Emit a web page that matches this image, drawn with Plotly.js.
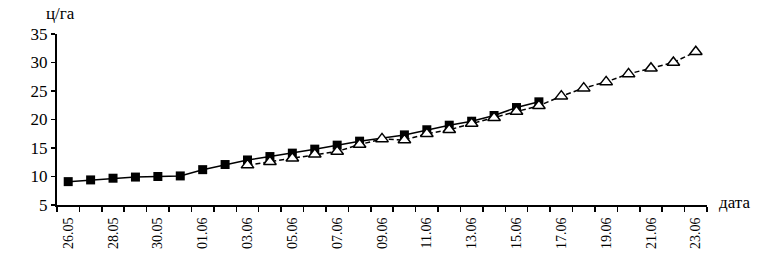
<!DOCTYPE html>
<html>
<head>
<meta charset="utf-8">
<script src="https://cdn.plot.ly/plotly-3.0.1.min.js"></script>
<style>
  html, body { margin: 0; padding: 0; background: #fff; }
  #chart { width: 768px; height: 267px; }
</style>
</head>
<body>
<div id="chart"></div>
<script>
// Categories (dates)
const dates = ['26.05','27.05','28.05','29.05','30.05','31.05',
  '01.06','02.06','03.06','04.06','05.06','06.06','07.06','08.06','09.06','10.06',
  '11.06','12.06','13.06','14.06','15.06','16.06','17.06','18.06','19.06','20.06',
  '21.06','22.06','23.06'];

// Series 1 (filled squares, solid line): 26.05 .. 16.06
const squareDates = dates.slice(0, 22);
const squareValues = [9.1, 9.4, 9.7, 9.9, 10.0, 10.1, 11.2, 12.1, 12.9, 13.5, 14.1,
  14.8, 15.5, 16.2, null, 17.3, 18.2, 19.0, 19.7, 20.7, 22.1, 23.1];

// Series 2 (open triangles, dashed line): 03.06 .. 23.06
const triangleDates = dates.slice(8);
const triangleValues = [12.0, 12.6, 13.2, 13.9, 14.4, 15.6, 16.6, 16.4, 17.5, 18.2,
  19.3, 20.3, 21.4, 22.4, 24.1, 25.5, 26.6, 28.0, 29.0, 30.0, 31.9];

// Tick labels: every other date
const tickLabels = dates.map((d, i) => (i % 2 === 0 ? d : ''));
const yTicks = [5, 10, 15, 20, 25, 30, 35];

const FONT = 'Liberation Serif, Times New Roman, serif';

const traces = [
  {
    x: squareDates, y: squareValues, type: 'scatter', mode: 'lines+markers',
    connectgaps: true,
    line: { color: '#000', width: 1.5 },
    marker: { symbol: 'square', size: 9, color: '#000' },
    hoverinfo: 'skip'
  },
  {
    x: triangleDates, y: triangleValues, type: 'scatter', mode: 'lines+markers',
    line: { color: '#000', width: 1.5, dash: '5px,3px' },
    marker: { symbol: 'triangle-up', size: 11, color: '#fff', line: { color: '#000', width: 1.5 } },
    hoverinfo: 'skip'
  }
];

const layout = {
  width: 768, height: 267,
  margin: { l: 57, r: 61, t: 34, b: 62 },
  paper_bgcolor: '#fff', plot_bgcolor: '#fff',
  showlegend: false,
  font: { family: FONT, color: '#000' },
  xaxis: {
    type: 'category',
    categoryorder: 'array', categoryarray: dates,
    range: [-0.5, dates.length - 0.5],
    tickmode: 'array', tickvals: dates, ticktext: tickLabels,
    tickson: 'boundaries',
    ticks: 'outside', ticklen: 5, tickwidth: 1.5, tickcolor: '#000',
    tickangle: -90,
    ticklabelstandoff: 5,
    tickfont: { family: FONT, size: 14, color: '#000' },
    showline: true, linecolor: '#000', linewidth: 2,
    showgrid: false, zeroline: false, fixedrange: true
  },
  yaxis: {
    range: [5, 35],
    tickmode: 'array', tickvals: yTicks,
    ticks: 'outside', ticklen: 4, tickwidth: 1.5, tickcolor: '#000',
    tickfont: { family: FONT, size: 17, color: '#000' },
    showline: true, linecolor: '#000', linewidth: 2,
    showgrid: false, zeroline: false, fixedrange: true
  },
  annotations: [
    { text: 'ц/га', xref: 'paper', yref: 'paper', x: 0.006, y: 1.117,
      xanchor: 'center', yanchor: 'middle', showarrow: false,
      font: { family: FONT, size: 17, color: '#000' } },
    { text: 'дата', xref: 'paper', yref: 'paper', x: 1.043, y: 0.012,
      xanchor: 'center', yanchor: 'middle', showarrow: false,
      font: { family: FONT, size: 17, color: '#000' } }
  ]
};

Plotly.newPlot('chart', traces, layout, { staticPlot: true, displayModeBar: false });
</script>
</body>
</html>
